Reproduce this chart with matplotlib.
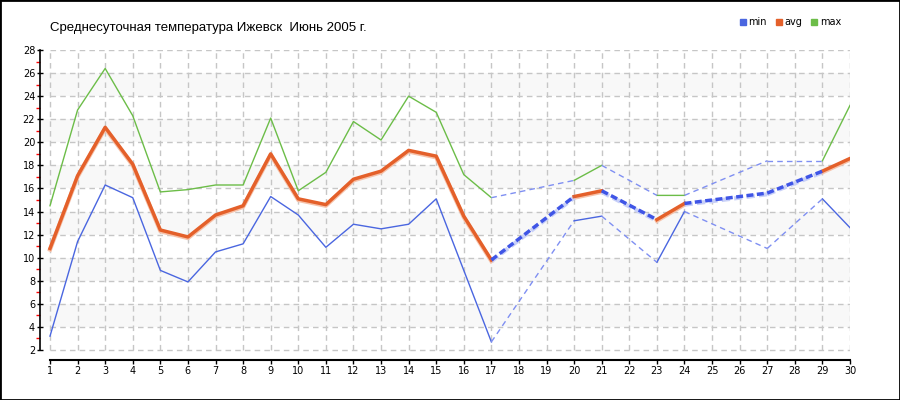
import numpy as np
import matplotlib.pyplot as plt
import matplotlib.transforms as mtransforms
from matplotlib.lines import Line2D

# Данные (NaN — нет наблюдений)
nan = np.nan
dias = list(range(1, 31))
t_min = [3.2, 11.4, 16.3, 15.2, 8.9, 7.9, 10.5, 11.2, 15.3, 13.7,
         10.9, 12.9, 12.5, 12.9, 15.1, 8.9, 2.7, nan, nan, 13.2,
         13.6, nan, 9.6, 14.0, nan, nan, 10.8, nan, 15.1, 12.6]
t_avg = [10.8, 17.1, 21.3, 18.1, 12.4, 11.8, 13.7, 14.5, 19.0, 15.1,
         14.6, 16.8, 17.5, 19.3, 18.8, 13.6, 9.8, nan, nan, 15.3,
         15.8, nan, 13.3, 14.7, nan, nan, 15.6, nan, 17.5, 18.6]
t_max = [14.5, 22.8, 26.4, 22.3, 15.7, 15.9, 16.3, 16.3, 22.1, 15.8,
         17.4, 21.8, 20.2, 24.0, 22.6, 17.2, 15.2, nan, nan, 16.7,
         18.0, nan, 15.4, 15.4, nan, nan, 18.4, nan, 18.4, 23.2]
titulo = 'Среднесуточная температура Ижевск  Июнь 2005 г.'

cor_min = '#4a66e0'
cor_avg = '#e4602a'
cor_max = '#6cbd48'
cor_gap = '#7f8ff2'
cor_gap_avg = '#3f55e6'

fig = plt.figure(figsize=(9, 4), dpi=100)
ax = fig.add_axes([40 / 900, 1 - 360 / 400, 810 / 900, 310 / 400])

passo = 800 / 29
ax.set_xlim(1 - 10 / passo, 30)
ax.set_ylim(2 - 10 / (300 / 26), 28)

# faixas cinzas
for y0 in range(4, 26, 4):
    ax.axhspan(y0, y0 + 2, color='#f8f8f8', zorder=0, lw=0)

# grade tracejada
for d in dias:
    ax.plot([d, d], [2, 28], color='#c6c6c6', lw=1, ls=(0, (4, 3)), zorder=1)
for y in range(2, 29, 2):
    ax.plot([1, 30], [y, y], color='#c6c6c6', lw=1, ls=(0, (4, 3)), zorder=1)

x = np.array(dias, dtype=float)


def lacunas(valores):
    pontos = [(d, v) for d, v in zip(dias, valores) if not np.isnan(v)]
    segs = []
    for (d0, v0), (d1, v1) in zip(pontos[:-1], pontos[1:]):
        if d1 - d0 > 1:
            segs.append(((d0, d1), (v0, v1)))
    return segs


sombra = mtransforms.offset_copy(ax.transData, fig=fig, x=0, y=-1.2, units='dots')

ax.plot(x, t_max, color=cor_max, lw=1, zorder=3)
ax.plot(x, t_min, color=cor_min, lw=1, zorder=3)
ax.plot(x, t_avg, color='#f6c2aa', lw=3, zorder=3, transform=sombra)
ax.plot(x, t_avg, color=cor_avg, lw=2.5, zorder=4)

for serie in (t_min, t_max):
    for xs, ys in lacunas(serie):
        ax.plot(xs, ys, color=cor_gap, lw=1, ls=(0, (4, 3)), zorder=3)
for xs, ys in lacunas(t_avg):
    ax.plot(xs, ys, color='#c8d0f8', lw=3, ls=(0, (2, 1)), zorder=3, transform=sombra)
    ax.plot(xs, ys, color=cor_gap_avg, lw=2.5, ls=(0, (2, 1)), zorder=4)

for lado in ('top', 'right'):
    ax.spines[lado].set_visible(False)
ax.spines['left'].set_linewidth(1.2)
ax.spines['left'].set_bounds(2, 28)
ax.spines['bottom'].set_linewidth(1.5)
ax.spines['bottom'].set_bounds(1, 30)

ax.set_xticks(dias)
ax.set_yticks(range(2, 29, 2))
ax.set_yticks(range(3, 28, 2), minor=True)
ax.tick_params(axis='x', labelsize=7, length=3, width=1, direction='out', pad=1)
ax.tick_params(axis='y', labelsize=7, length=5, width=1, direction='inout', pad=1)
ax.tick_params(axis='y', which='minor', length=3, width=1, color='red', direction='out')

fig.text(50 / 900, 1 - 28 / 400, titulo, fontsize=9.5, family='Liberation Sans',
         va='center', ha='left')

handles = [Line2D([], [], marker='s', ls='none', color=c, markersize=5)
           for c in (cor_min, cor_avg, cor_max)]
fig.legend(handles, ['min', 'avg', 'max'], loc='center', bbox_to_anchor=(790 / 900, 1 - 22 / 400),
           ncol=3, frameon=False, fontsize=7, handlelength=0.8, handletextpad=0.2,
           columnspacing=0.8, borderpad=0)

fig.patches.append(plt.Rectangle((0, 0), 1, 1, transform=fig.transFigure, fill=False,
                                 edgecolor='black', lw=2))

fig.savefig('out.png', dpi=100)
